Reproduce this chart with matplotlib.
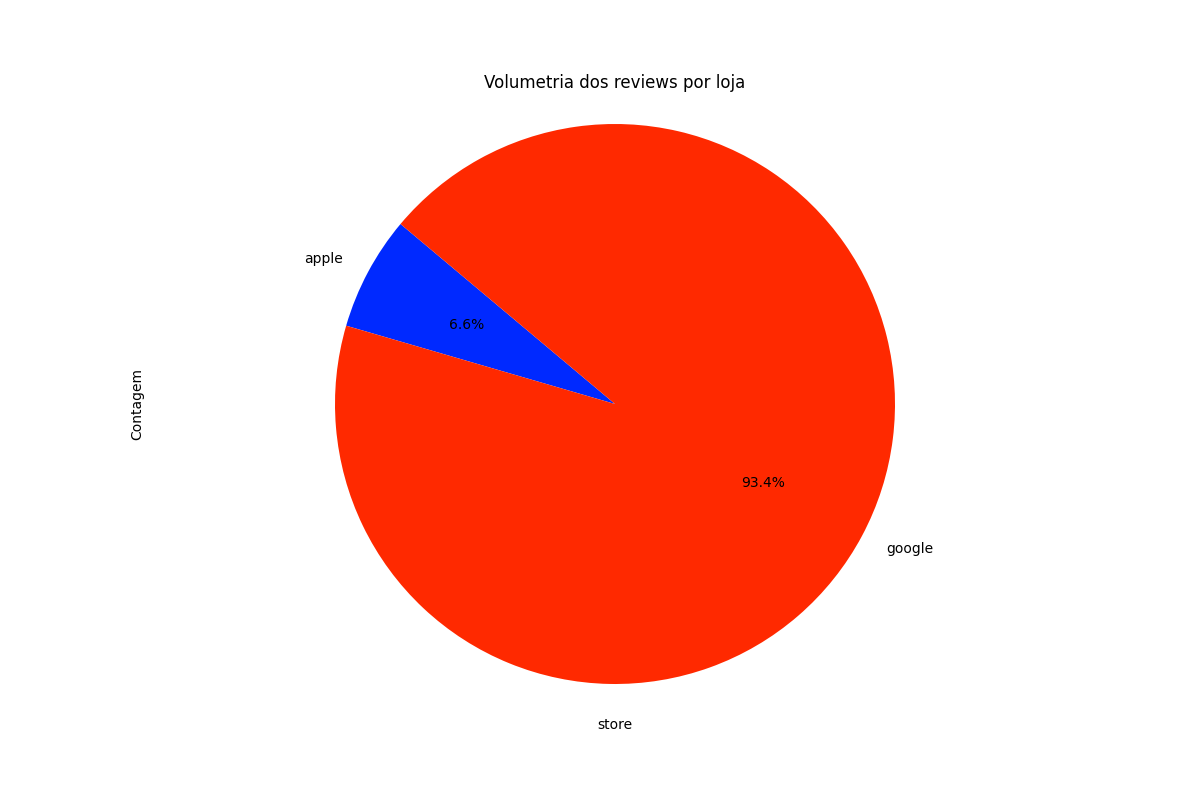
import matplotlib
matplotlib.use('Agg')
from matplotlib import pyplot as plt

# review counts per store
stores = ['apple', 'google']
counts = [66, 934]
colors = ['#0029ff', '#ff2900']

fig, ax = plt.subplots(figsize=(12, 8), dpi=100)
ax.pie(counts, labels=stores, colors=colors, autopct='%1.1f%%', startangle=140)
ax.set_aspect('equal', adjustable='datalim')
ax.set_ylim(-1.1, 1.1)
ax.set_title('Volumetria dos reviews por loja')
ax.set_xlabel('store')
ax.set_ylabel('Contagem')

fig.savefig('out.png')
